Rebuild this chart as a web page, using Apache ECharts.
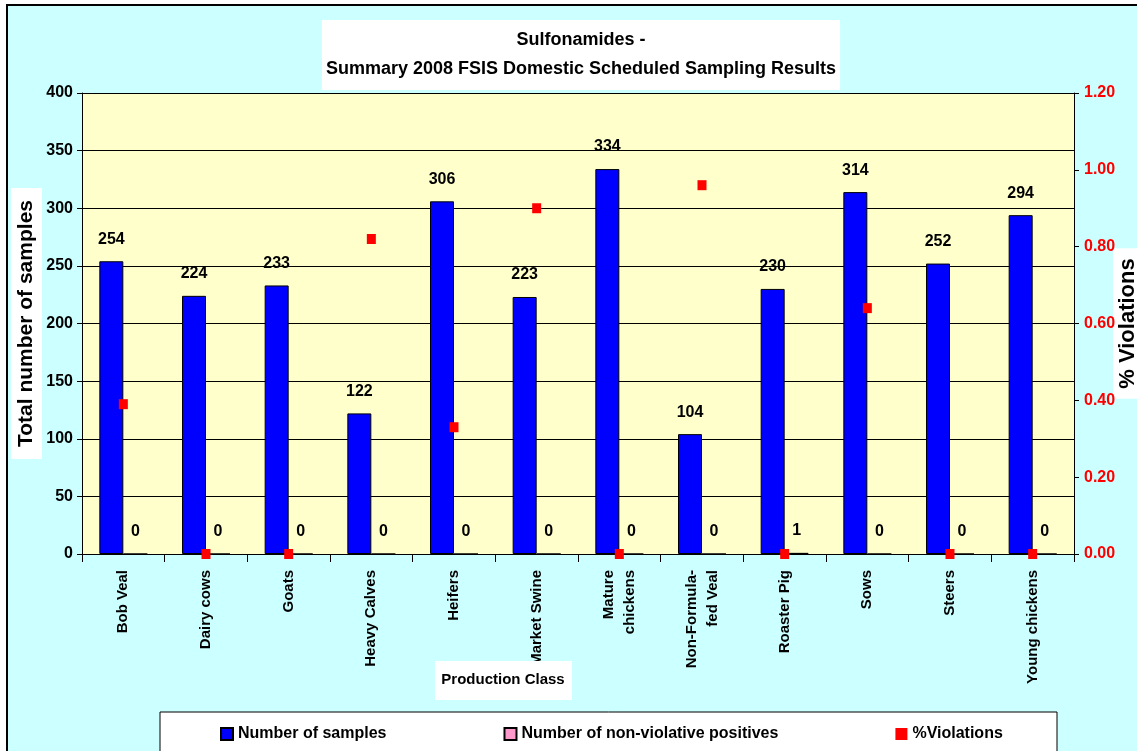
<!DOCTYPE html>
<html>
<head>
<meta charset="utf-8">
<script src="https://cdn.jsdelivr.net/npm/echarts@6/dist/echarts.min.js"></script>
<style>
  html, body { margin: 0; padding: 0; background: #fff; }
  #main { width: 1137px; height: 751px; }
</style>
</head>
<body>
<div id="main"></div>
<script>
var myChart = echarts.init(document.getElementById('main'));

// production classes along the x axis
var categories = ['Bob Veal', 'Dairy cows', 'Goats', 'Heavy Calves', 'Heifers', 'Market Swine',
    'Mature\nchickens', 'Non-Formula-\nfed Veal', 'Roaster Pig', 'Sows', 'Steers', 'Young chickens'];

var samples = [254, 224, 233, 122, 306, 223, 334, 104, 230, 314, 252, 294];
var nonViolative = [0, 0, 0, 0, 0, 0, 0, 0, 1, 0, 0, 0];
var violations = [0.39, 0, 0, 0.82, 0.33, 0.90, 0, 0.96, 0, 0.64, 0, 0];

var leftTicks = { min: 0, max: 400, interval: 50 };
var rightTicks = { min: 0, max: 1.2, interval: 0.2 };

var font = 'Arial, "Liberation Sans", sans-serif';

option = {
    backgroundColor: '#ffffff',
    textStyle: { fontFamily: font },
    title: {
        text: 'Sulfonamides -\nSummary 2008 FSIS Domestic Scheduled Sampling Results',
        left: 577,
        top: 20,
        textAlign: 'center',
        backgroundColor: '#ffffff',
        padding: [6, 4, 6, 4],
        textStyle: {
            fontFamily: font,
            fontSize: 18,
            fontWeight: 'bold',
            color: '#000',
            lineHeight: 29
        }
    },
    legend: {
        data: ['Number of samples', 'Number of non-violative positives', '%Violations'],
        left: 220,
        top: 726,
        padding: 0,
        itemGap: 117,
        itemWidth: 12,
        itemHeight: 12,
        icon: 'rect',
        textStyle: { fontFamily: font, fontSize: 16, fontWeight: 'bold', color: '#000' }
    },
    graphic: [
        {   // outer chart area
            type: 'rect', z: -1,
            shape: { x: 7, y: 5, width: 1140, height: 760 },
            style: { fill: '#CCFFFF', stroke: '#000', lineWidth: 2 }
        },
        {   // legend box
            type: 'rect', z: 2,
            shape: { x: 160, y: 712, width: 897, height: 50 },
            style: { fill: '#ffffff', stroke: '#000', lineWidth: 1 }
        },
        {   // x axis title box
            type: 'rect', z: 2,
            shape: { x: 435, y: 661, width: 137, height: 39 },
            style: { fill: '#ffffff' }
        },
        {
            type: 'text', z: 3,
            x: 503, y: 680,
            style: {
                text: 'Production Class',
                fill: '#000',
                font: 'bold 15px ' + font,
                align: 'center',
                verticalAlign: 'middle'
            }
        }
    ],
    grid: {
        left: 82,
        right: 63,
        top: 93,
        bottom: 197,
        containLabel: false,
        outerBoundsMode: 'none',
        show: true,
        backgroundColor: '#FFFFCC',
        borderWidth: 0
    },
    xAxis: {
        type: 'category',
        data: categories,
        axisLine: { lineStyle: { color: '#000', width: 1 } },
        axisTick: { show: true, length: 8, alignWithLabel: false, lineStyle: { color: '#000' } },
        axisLabel: {
            interval: 0,
            rotate: 90,
            margin: 16,
            fontSize: 15,
            fontWeight: 'bold',
            color: '#000',
            lineHeight: 21
        }
    },
    yAxis: [
        {
            type: 'value',
            min: leftTicks.min,
            max: leftTicks.max,
            interval: leftTicks.interval,
            name: 'Total number of samples',
            nameLocation: 'middle',
            nameRotate: 90,
            nameGap: 40,
            nameMoveOverlap: false,
            nameTextStyle: {
                fontSize: 21,
                fontWeight: 'bold',
                color: '#000',
                backgroundColor: '#ffffff',
                padding: [5, 12, 5, 12]
            },
            axisLine: { show: true, lineStyle: { color: '#000' } },
            axisTick: { show: true, length: 5, lineStyle: { color: '#000' } },
            axisLabel: { fontSize: 16, fontWeight: 'bold', color: '#000', margin: 9 },
            splitLine: { show: true, lineStyle: { color: '#000', width: 1 } }
        },
        {
            type: 'value',
            position: 'right',
            min: rightTicks.min,
            max: rightTicks.max,
            interval: rightTicks.interval,
            name: '% Violations',
            nameLocation: 'middle',
            nameRotate: 90,
            nameGap: 39,
            nameMoveOverlap: false,
            nameTextStyle: {
                fontSize: 22,
                fontWeight: 'bold',
                color: '#000',
                backgroundColor: '#ffffff',
                padding: [4, 10, 9, 10]
            },
            axisLine: { show: true, lineStyle: { color: '#000' } },
            axisTick: { show: true, length: 5, lineStyle: { color: '#000' } },
            axisLabel: {
                fontSize: 16, fontWeight: 'bold', color: '#FF0000', margin: 10,
                formatter: function (v) { return v.toFixed(2); }
            },
            splitLine: { show: false }
        }
    ],
    series: [
        {
            name: 'Number of samples',
            type: 'bar',
            data: samples,
            barWidth: 24,
            barGap: '0%',
            itemStyle: { color: '#0000FF', borderColor: '#000', borderWidth: 1 },
            label: {
                show: true, position: 'top', distance: 14,
                fontSize: 16, fontWeight: 'bold', color: '#000'
            }
        },
        {
            name: 'Number of non-violative positives',
            type: 'bar',
            data: nonViolative,
            barWidth: 24,
            barGap: '0%',
            itemStyle: { color: '#FF99CC', borderColor: '#000', borderWidth: 1 },
            label: {
                show: true, position: 'top', distance: 14,
                fontSize: 16, fontWeight: 'bold', color: '#000'
            }
        },
        {
            name: '%Violations',
            type: 'scatter',
            yAxisIndex: 1,
            data: violations,
            symbol: 'rect',
            symbolSize: [9, 10],
            itemStyle: { color: '#FF0000', opacity: 1 },
            z: 5
        }
    ]
};

myChart.setOption(option);
</script>
</body>
</html>
